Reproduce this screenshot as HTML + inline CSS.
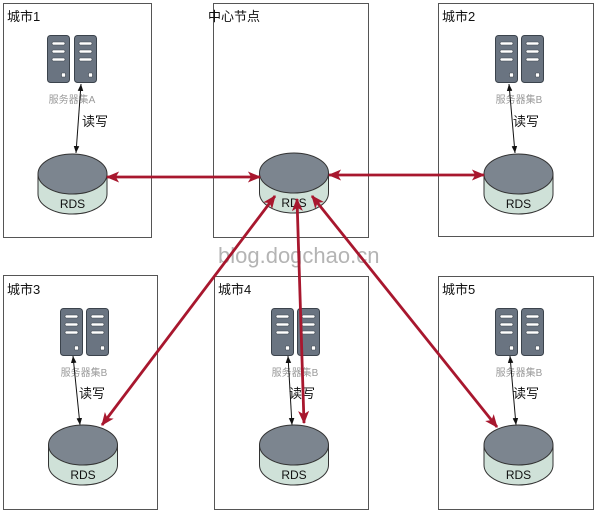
<!DOCTYPE html>
<html><head><meta charset="utf-8">
<style>
html,body{margin:0;padding:0;background:#fff;}
svg{display:block;}
text{font-family:"Liberation Sans","Noto Sans CJK SC",sans-serif;}
</style></head>
<body>
<svg width="600" height="515" viewBox="0 0 600 515" xmlns="http://www.w3.org/2000/svg">
<defs>
  <marker id="r" viewBox="0 0 12 10" refX="11" refY="5" markerWidth="14" markerHeight="11" markerUnits="userSpaceOnUse" orient="auto-start-reverse">
    <path d="M0,0 L12,5 L0,10 L3,5 z" fill="#a8172e"/>
  </marker>
  <marker id="b" viewBox="0 0 10 8" refX="10" refY="4" markerWidth="7" markerHeight="6" markerUnits="userSpaceOnUse" orient="auto-start-reverse">
    <path d="M0,0 L10,4 L0,8 z" fill="#111"/>
  </marker>
  <g id="srv">
    <rect x="0.5" y="0.5" width="22" height="47" rx="3" fill="#6a7481" stroke="#3b434c" stroke-width="1"/>
    <rect x="5" y="7" width="13" height="3" rx="1.2" fill="#fff" stroke="#3b434c" stroke-width="0.6"/>
    <rect x="5" y="15" width="13" height="3" rx="1.2" fill="#fff" stroke="#3b434c" stroke-width="0.6"/>
    <rect x="5" y="23" width="13" height="3" rx="1.2" fill="#fff" stroke="#3b434c" stroke-width="0.6"/>
    <rect x="14.5" y="38" width="4" height="4" rx="0.8" fill="#fff" stroke="#3b434c" stroke-width="0.6"/>
  </g>
  <g id="cyl">
    <path d="M-34.5,0 L-34.5,20 A34.5,20 0 0 0 34.5,20 L34.5,0 Z" fill="#cfe1d8" stroke="#333" stroke-width="1"/>
    <ellipse cx="0" cy="0" rx="34.5" ry="20" fill="#7c858f" stroke="#333" stroke-width="1"/>
    <text x="0" y="34" font-size="12" text-anchor="middle" fill="#111">RDS</text>
  </g>
</defs>

<!-- boxes -->
<g fill="none" stroke="#555" stroke-width="1">
  <rect x="3.5" y="3.5" width="148" height="234"/>
  <rect x="213.5" y="3.5" width="155" height="234"/>
  <rect x="438.5" y="3.5" width="155" height="233"/>
  <rect x="3.5" y="275.5" width="154" height="234"/>
  <rect x="214.5" y="276.5" width="154" height="233"/>
  <rect x="438.5" y="276.5" width="155" height="233"/>
</g>

<!-- titles -->
<g font-size="13" fill="#111">
  <text x="7" y="21">城市1</text>
  <text x="208" y="21">中心节点</text>
  <text x="442" y="21">城市2</text>
  <text x="7" y="294">城市3</text>
  <text x="218" y="294">城市4</text>
  <text x="442" y="294">城市5</text>
</g>

<!-- servers -->
<use href="#srv" x="47" y="35"/><use href="#srv" x="74" y="35"/>
<use href="#srv" x="495" y="35"/><use href="#srv" x="521" y="35"/>
<use href="#srv" x="60" y="308"/><use href="#srv" x="86" y="308"/>
<use href="#srv" x="271" y="308"/><use href="#srv" x="297" y="308"/>
<use href="#srv" x="495" y="308"/><use href="#srv" x="521" y="308"/>

<g font-size="10" fill="#9a9a9a" text-anchor="middle">
  <text x="72" y="103">服务器集A</text>
  <text x="519" y="103">服务器集B</text>
  <text x="84" y="376">服务器集B</text>
  <text x="295" y="376">服务器集B</text>
  <text x="519" y="376">服务器集B</text>
</g>

<!-- black read/write arrows -->
<g stroke="#111" stroke-width="1" marker-start="url(#b)" marker-end="url(#b)">
  <line x1="81" y1="84" x2="76" y2="153"/>
  <line x1="509" y1="84" x2="515" y2="153"/>
  <line x1="73" y1="356" x2="80" y2="425"/>
  <line x1="288" y1="356" x2="292" y2="425"/>
  <line x1="510" y1="356" x2="516" y2="425"/>
</g>
<g font-size="13" fill="#111">
  <text x="82" y="126">读写</text>
  <text x="513" y="126">读写</text>
  <text x="79" y="398">读写</text>
  <text x="289" y="398">读写</text>
  <text x="513" y="398">读写</text>
</g>

<!-- cylinders -->
<use href="#cyl" x="72.5" y="174"/>
<use href="#cyl" x="294" y="173"/>
<use href="#cyl" x="518.5" y="174"/>
<use href="#cyl" x="83" y="445"/>
<use href="#cyl" x="294" y="445"/>
<use href="#cyl" x="518.5" y="445"/>

<!-- watermark -->
<text x="218" y="263" font-size="22" fill="#b4b4b4">blog.dogchao.cn</text>

<!-- red arrows -->
<g stroke="#a8172e" stroke-width="2.8" fill="none" marker-start="url(#r)" marker-end="url(#r)">
  <line x1="107" y1="177" x2="260" y2="177"/>
  <line x1="329" y1="175" x2="484" y2="175"/>
  <line x1="275" y1="196" x2="102" y2="425"/>
  <line x1="297" y1="199" x2="304" y2="423"/>
  <line x1="312" y1="196" x2="497" y2="427"/>
</g>
</svg>
</body></html>
